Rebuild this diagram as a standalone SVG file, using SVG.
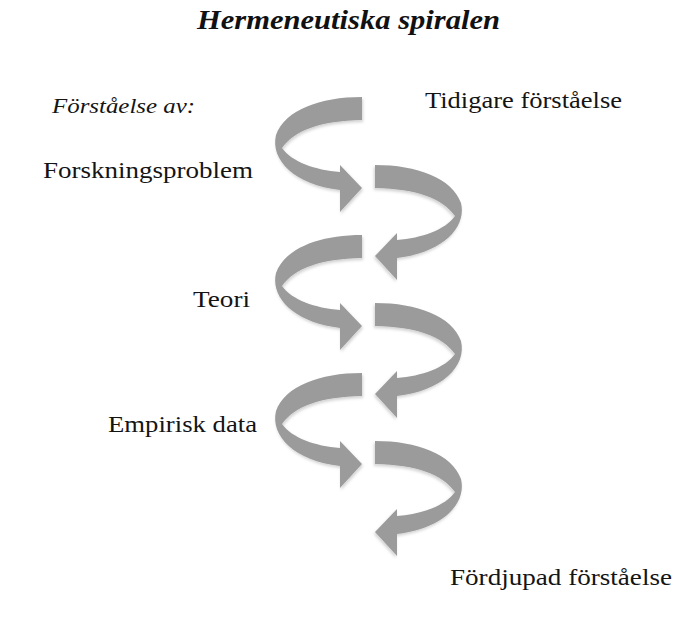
<svg xmlns="http://www.w3.org/2000/svg" xmlns:xlink="http://www.w3.org/1999/xlink" width="692" height="617" viewBox="0 0 692 617">
  <style>
    .lbl { font-family: "Liberation Serif", "DejaVu Serif", serif; font-size: 24px; fill: #141414; }
    .it { font-style: italic; font-size: 22px; }
    .title { font-family: "Liberation Serif", "DejaVu Serif", serif; font-size: 27px; font-weight: bold; font-style: italic; fill: #111; }
    .arrow { fill: #9b9b9b; filter: url(#soft); }
  </style>
  <defs>
    <filter id="soft" x="-20%" y="-20%" width="140%" height="140%">
      <feGaussianBlur in="SourceGraphic" stdDeviation="0.6" result="b"/>
      <feDropShadow in="b" dx="1" dy="2" stdDeviation="1.5" flood-color="#000" flood-opacity="0.18"/>
    </filter>
    <path id="curl" d="M362,97 C320,97 285,110 276,135 C270,160 295,185 340,190 L340,212 L362,188 L340,165 L340,172 C315,170 292,162 282,148 C295,130 320,121 362,120 Z"/>
  </defs>
  <rect width="692" height="617" fill="#ffffff"/>

  <g id="title"><text class="title" x="197" y="29" textLength="303" lengthAdjust="spacingAndGlyphs">Hermeneutiska spiralen</text></g>

  <g id="connectors">
    <g id="arrow-l1"><use xlink:href="#curl" href="#curl" class="arrow"/></g>
    <g id="arrow-r1"><use xlink:href="#curl" href="#curl" class="arrow" transform="translate(737,68) scale(-1,1)"/></g>
    <g id="arrow-l2"><use xlink:href="#curl" href="#curl" class="arrow" transform="translate(0,138)"/></g>
    <g id="arrow-r2"><use xlink:href="#curl" href="#curl" class="arrow" transform="translate(737,206) scale(-1,1)"/></g>
    <g id="arrow-l3"><use xlink:href="#curl" href="#curl" class="arrow" transform="translate(0,276)"/></g>
    <g id="arrow-r3"><use xlink:href="#curl" href="#curl" class="arrow" transform="translate(737,344) scale(-1,1)"/></g>
  </g>

  <g id="label-forstaelse-av"><text class="lbl it" x="52" y="113" textLength="143" lengthAdjust="spacingAndGlyphs">Förståelse av:</text></g>
  <g id="label-tidigare"><text class="lbl" x="425" y="108" textLength="197" lengthAdjust="spacingAndGlyphs">Tidigare förståelse</text></g>
  <g id="label-forskningsproblem"><text class="lbl" x="43" y="178" textLength="210" lengthAdjust="spacingAndGlyphs">Forskningsproblem</text></g>
  <g id="label-teori"><text class="lbl" x="193" y="307" textLength="57" lengthAdjust="spacingAndGlyphs">Teori</text></g>
  <g id="label-empirisk"><text class="lbl" x="108" y="432" textLength="149" lengthAdjust="spacingAndGlyphs">Empirisk data</text></g>
  <g id="label-fordjupad"><text class="lbl" x="450" y="585" textLength="222" lengthAdjust="spacingAndGlyphs">Fördjupad förståelse</text></g>
</svg>
